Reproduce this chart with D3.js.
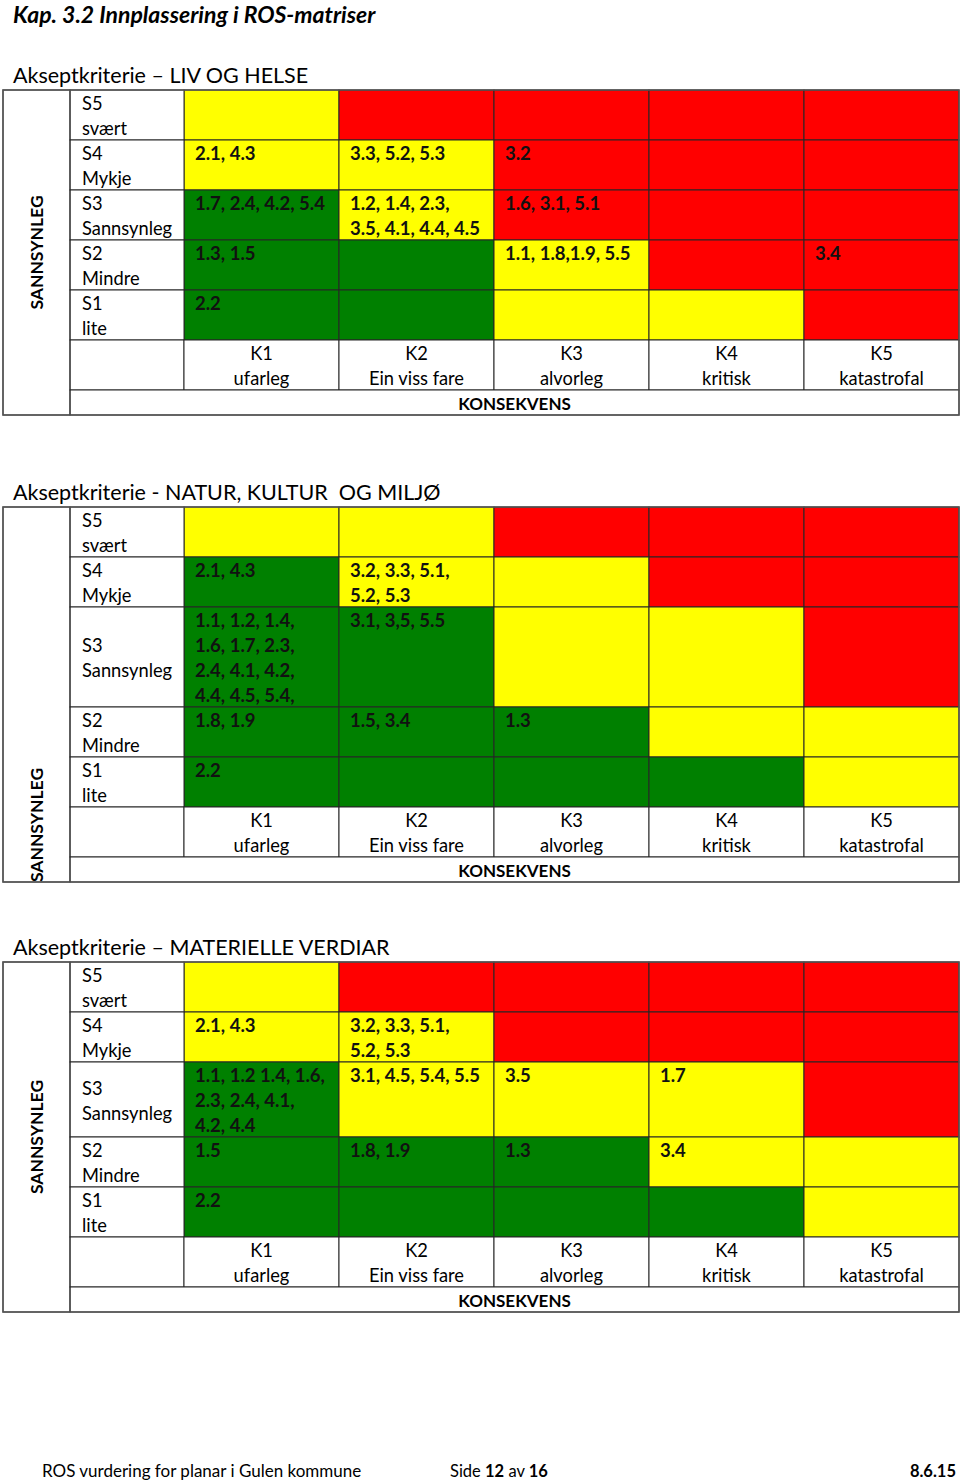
<!DOCTYPE html>
<html><head><meta charset="utf-8">
<script src="https://cdn.jsdelivr.net/npm/d3@7/dist/d3.min.js"></script>
<style>
html,body{margin:0;padding:0;background:#fff;}
svg{display:block;font-family:Lato,"Open Sans",sans-serif;}
svg text{white-space:pre;}
</style></head>
<body>
<svg id="c" width="960" height="1482"></svg>
<script>
// ---------- DATA ----------
const pageTitle = "Kap. 3.2 Innplassering i ROS-matriser";
const matrixTitles = ["Akseptkriterie \u2013 LIV OG HELSE", "Akseptkriterie - NATUR, KULTUR  OG MILJ\u00D8", "Akseptkriterie \u2013 MATERIELLE VERDIAR"];
const consequenceCodes = ["K1", "K2", "K3", "K4", "K5"];
const consequenceNames = ["ufarleg", "Ein viss fare", "alvorleg", "kritisk", "katastrofal"];
const probabilityCodes = ["S5", "S4", "S3", "S2", "S1"];
const probabilityNames = ["svært", "Mykje", "Sannsynleg", "Mindre", "lite"];
const axisY = "SANNSYNLEG";
const axisX = "KONSEKVENS";
// risk level per cell: G = acceptable (green), Y = tiltak (yellow), R = unacceptable (red)
const levels1 = [
  ["Y","R","R","R","R"],
  ["Y","Y","R","R","R"],
  ["G","Y","R","R","R"],
  ["G","G","Y","R","R"],
  ["G","G","Y","Y","R"]];
const entries1 = [
  ["", "", "", "", ""],
  ["2.1, 4.3", "3.3, 5.2, 5.3", "3.2", "", ""],
  ["1.7, 2.4, 4.2, 5.4", "1.2, 1.4, 2.3,|3.5, 4.1, 4.4, 4.5", "1.6, 3.1, 5.1", "", ""],
  ["1.3, 1.5", "", "1.1, 1.8,1.9, 5.5", "", "3.4"],
  ["2.2", "", "", "", ""]];
const levels2 = [
  ["Y","Y","R","R","R"],
  ["G","Y","Y","R","R"],
  ["G","G","Y","Y","R"],
  ["G","G","G","Y","Y"],
  ["G","G","G","G","Y"]];
const entries2 = [
  ["", "", "", "", ""],
  ["2.1, 4.3", "3.2, 3.3, 5.1,|5.2, 5.3", "", "", ""],
  ["1.1, 1.2, 1.4,|1.6, 1.7, 2.3,|2.4, 4.1, 4.2,|4.4, 4.5, 5.4,", "3.1, 3,5, 5.5", "", "", ""],
  ["1.8, 1.9", "1.5, 3.4", "1.3", "", ""],
  ["2.2", "", "", "", ""]];
const levels3 = [
  ["Y","R","R","R","R"],
  ["Y","Y","R","R","R"],
  ["G","Y","Y","Y","R"],
  ["G","G","G","Y","Y"],
  ["G","G","G","G","Y"]];
const entries3 = [
  ["", "", "", "", ""],
  ["2.1, 4.3", "3.2, 3.3, 5.1,|5.2, 5.3", "", "", ""],
  ["1.1, 1.2 1.4, 1.6,|2.3, 2.4, 4.1,|4.2, 4.4", "3.1, 4.5, 5.4, 5.5", "3.5", "1.7", ""],
  ["1.5", "1.8, 1.9", "1.3", "3.4", ""],
  ["2.2", "", "", "", ""]];
const footerLeft = "ROS vurdering for planar i Gulen kommune";
const footerPage = ["Side ", "12", " av ", "16"];
const footerDate = "8.6.15";

// ---------- LAYOUT ----------
const svg = d3.select("#c");
const color = d3.scaleOrdinal().domain(["G","Y","R"]).range(["#008000","#ffff00","#ff0000"]);
const x = d3.scaleBand().domain(consequenceCodes).range([184, 959]).paddingInner(0);
const LINE = 25;
const stroke = "#262626";
const FS = 18.3;
const FSV = 18.5;

svg.append("text").attr("x", 13).attr("y", 23)
  .attr("font-size", 23).attr("font-weight", "bold").attr("font-style", "italic")
  .text(pageTitle);

const matrices = [
  {title: matrixTitles[0], levels: levels1, entries: entries1, top: 90, yLabel: "center"},
  {title: matrixTitles[1], levels: levels2, entries: entries2, top: 507, yLabel: "bottom"},
  {title: matrixTitles[2], levels: levels3, entries: entries3, top: 962, yLabel: "center"}
];

matrices.forEach(m => {
  const g = svg.append("g");
  // row heights in line units
  const units = m.entries.map(r => Math.max(2, d3.max(r, s => s ? s.split("|").length : 0)));
  const cum = [0]; units.forEach(u => cum.push(cum[cum.length-1] + u));
  const y = d3.scaleLinear().domain([0, 1]).range([m.top, m.top + LINE]);
  const gridBottom = y(cum[cum.length-1]);
  const kBottom = gridBottom + 2*LINE;
  const bottom = kBottom + LINE;

  g.append("text").attr("x", 13).attr("y", m.top - 7).attr("font-size", 21.5).text(m.title);

  // cells
  const cells = [];
  m.levels.forEach((row, i) => row.forEach((lv, j) => cells.push({i, j, lv, txt: m.entries[i][j]})));
  g.selectAll("rect.cell").data(cells).join("rect").attr("class", "cell")
    .attr("x", d => x(consequenceCodes[d.j])).attr("width", x.bandwidth())
    .attr("y", d => y(cum[d.i])).attr("height", d => y(cum[d.i+1]) - y(cum[d.i]))
    .attr("fill", d => color(d.lv)).attr("stroke", stroke).attr("stroke-width", 1);

  // cell entries
  g.selectAll("text.val").data(cells.filter(d => d.txt)).join("text").attr("class", "val")
    .attr("font-size", FSV).attr("font-weight", "bold").attr("fill", "#111")
    .each(function(d) {
      const t = d3.select(this);
      d.txt.split("|").forEach((ln, k) => {
        t.append("tspan").attr("x", x(consequenceCodes[d.j]) + 11)
          .attr("y", y(cum[d.i]) + 20 + k*LINE).text(ln);
      });
    });

  // row label column
  probabilityCodes.forEach((code, i) => {
    const y0 = y(cum[i]), y1 = y(cum[i+1]);
    g.append("rect").attr("x", 70).attr("y", y0).attr("width", 114).attr("height", y1 - y0)
      .attr("fill", "#fff").attr("stroke", stroke);
    const off = (y1 - y0 - 2*LINE) / 2;
    g.append("text").attr("x", 82).attr("y", y0 + off + 20).attr("font-size", FS).text(code);
    g.append("text").attr("x", 82).attr("y", y0 + off + 45).attr("font-size", FS).text(probabilityNames[i]);
  });

  // consequence labels
  g.append("rect").attr("x", 70).attr("y", gridBottom).attr("width", 114).attr("height", 2*LINE)
    .attr("fill", "#fff").attr("stroke", stroke);
  consequenceCodes.forEach((code, j) => {
    const cx = x(code);
    g.append("rect").attr("x", cx).attr("y", gridBottom).attr("width", x.bandwidth()).attr("height", 2*LINE)
      .attr("fill", "#fff").attr("stroke", stroke);
    g.append("text").attr("x", cx + x.bandwidth()/2).attr("y", gridBottom + 20)
      .attr("text-anchor", "middle").attr("font-size", FS).text(code);
    g.append("text").attr("x", cx + x.bandwidth()/2).attr("y", gridBottom + 45)
      .attr("text-anchor", "middle").attr("font-size", FS).text(consequenceNames[j]);
  });
  g.append("rect").attr("x", 70).attr("y", kBottom).attr("width", 889).attr("height", LINE)
    .attr("fill", "#fff").attr("stroke", stroke);
  g.append("text").attr("x", (70 + 959)/2).attr("y", kBottom + 20).attr("text-anchor", "middle")
    .attr("font-size", 17).attr("font-weight", "bold").text(axisX);

  // left axis column
  g.append("rect").attr("x", 3).attr("y", m.top).attr("width", 67).attr("height", bottom - m.top)
    .attr("fill", "none").attr("stroke", stroke);
  const cy = m.yLabel === "bottom" ? bottom - 57 : (m.top + bottom) / 2;
  g.append("text").attr("transform", `translate(43,${cy}) rotate(-90)`)
    .attr("text-anchor", "middle").attr("font-size", 17.5).attr("font-weight", "bold").text(axisY);
  // outer frame
  g.append("rect").attr("x", 3).attr("y", m.top).attr("width", 956).attr("height", bottom - m.top)
    .attr("fill", "none").attr("stroke", "#555").attr("stroke-width", 1.5);
});

// footer
svg.append("text").attr("x", 42).attr("y", 1477).attr("font-size", 17).text(footerLeft);
const ft = svg.append("text").attr("x", 450).attr("y", 1477).attr("font-size", 16.5);
footerPage.forEach((s, k) => ft.append("tspan").attr("font-weight", k % 2 ? "bold" : "normal").text(s));
svg.append("text").attr("x", 956).attr("y", 1477).attr("text-anchor", "end")
  .attr("font-size", 16.5).attr("font-weight", "bold").text(footerDate);
</script>
</body></html>
